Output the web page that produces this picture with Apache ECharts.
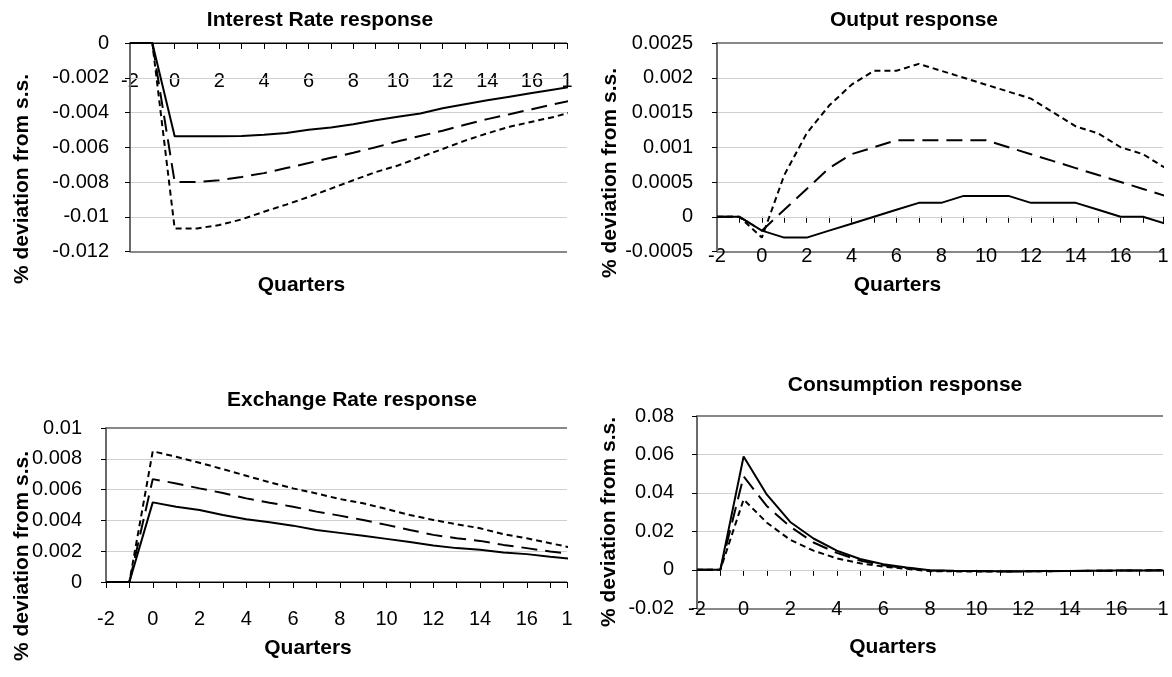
<!DOCTYPE html>
<html><head><meta charset="utf-8">
<script src="https://cdn.jsdelivr.net/npm/echarts@6/dist/echarts.min.js"></script>
<style>html,body{margin:0;padding:0;background:#fff}#c{width:1172px;height:677px}</style>
</head><body><div id="c"></div>
<script>
// ---- data (quarters -2 .. 18) ----
const quarters = [-2,-1,0,1,2,3,4,5,6,7,8,9,10,11,12,13,14,15,16,17,18];

const interestSolid = [0,0,-0.00537,-0.00537,-0.00537,-0.00535,-0.00528,-0.00518,-0.00499,-0.00486,-0.00467,-0.00444,-0.00425,-0.00406,-0.00375,-0.00352,-0.0033,-0.00309,-0.00288,-0.00267,-0.00248];
const interestLong  = [0,0,-0.008,-0.008,-0.0079,-0.00771,-0.00749,-0.0072,-0.00691,-0.00661,-0.00632,-0.006,-0.00566,-0.00535,-0.00505,-0.0047,-0.00438,-0.0041,-0.00381,-0.00352,-0.00324];
const interestShort = [0,0,-0.01067,-0.01067,-0.01048,-0.01015,-0.00971,-0.0093,-0.00886,-0.00838,-0.0079,-0.00743,-0.00705,-0.00657,-0.0061,-0.00562,-0.0052,-0.00482,-0.00453,-0.00425,-0.0039];

const outputSolid = [0,0,-0.0002,-0.0003,-0.0003,-0.0002,-0.0001,0,0.0001,0.0002,0.0002,0.0003,0.0003,0.0003,0.0002,0.0002,0.0002,0.0001,0,0,-0.0001];
const outputLong  = [0,0,-0.0002,0.0001,0.0004,0.0007,0.0009,0.001,0.0011,0.0011,0.0011,0.0011,0.0011,0.001,0.0009,0.0008,0.0007,0.0006,0.0005,0.0004,0.0003];
const outputShort = [0,0,-0.0003,0.0006,0.0012,0.0016,0.0019,0.0021,0.0021,0.0022,0.0021,0.002,0.0019,0.0018,0.0017,0.0015,0.0013,0.0012,0.001,0.0009,0.0007];

const exchSolid = [0,0,0.00517,0.00489,0.00468,0.00435,0.00407,0.00388,0.00366,0.00338,0.00319,0.003,0.0028,0.00259,0.00237,0.0022,0.00209,0.00192,0.00181,0.00164,0.0015];
const exchLong  = [0,0,0.00668,0.0064,0.00608,0.00578,0.00543,0.00515,0.00489,0.00457,0.00431,0.00403,0.00371,0.00338,0.00306,0.00284,0.00267,0.00241,0.0022,0.00198,0.0018];
const exchShort = [0,0,0.00849,0.00813,0.00774,0.00733,0.0069,0.00647,0.00608,0.00575,0.00539,0.00511,0.00474,0.00435,0.00403,0.00375,0.00349,0.0031,0.00284,0.00252,0.0022];

const consSolid = [0,0,0.0589,0.0391,0.0249,0.0163,0.00996,0.00567,0.0029,0.0012,-0.0002,-0.0005,-0.0006,-0.0007,-0.0007,-0.0006,-0.0006,-0.0005,-0.0004,-0.0003,-0.0003];
const consLong  = [0,0,0.0486,0.0331,0.0225,0.0142,0.0088,0.0048,0.0024,0.0009,-0.0003,-0.0006,-0.0007,-0.0008,-0.0008,-0.0007,-0.0006,-0.0005,-0.0004,-0.0003,-0.0002];
const consShort = [0,0,0.0366,0.0245,0.0156,0.01,0.006,0.0034,0.0017,0.0005,-0.0007,-0.0008,-0.0009,-0.0009,-0.0008,-0.0007,-0.0006,-0.0005,-0.0004,-0.0003,-0.0002];

// y-axis ranges [min, max, interval]
const interestY = [-0.012, 0, 0.002];
const outputY   = [-0.0005, 0.0025, 0.0005];
const exchY     = [0, 0.01, 0.002];
const consY     = [-0.02, 0.08, 0.02];

const titles = ['Interest Rate response', 'Output response', 'Exchange Rate response', 'Consumption response'];
const xName = 'Quarters';
const yName = '% deviation from s.s.';

// ---- layout ----
const FONT = "'Liberation Sans', Arial, Helvetica, sans-serif";
const panels = [
  {title: titles[0], vals: [interestSolid, interestLong, interestShort], y: interestY, xMax: 17.57, xm: -180.5,
   grid: {left: 130, top: 43, width: 437, height: 208.5}, tPos: [320, 20], xnPos: [301.5, 285], ynPos: [22, 179], ym: 21},
  {title: titles[1], vals: [outputSolid, outputLong, outputShort], y: outputY, xMax: 17.89, xm: -5.5,
   grid: {left: 717, top: 43, width: 446, height: 208.5}, tPos: [914, 20], xnPos: [897.5, 285], ynPos: [610, 173], ym: 24},
  {title: titles[2], vals: [exchSolid, exchLong, exchShort], y: exchY, xMax: 17.72, xm: 27,
   grid: {left: 106, top: 428, width: 461, height: 154}, tPos: [352, 400], xnPos: [308, 648], ynPos: [22, 556], ym: 24},
  {title: titles[3], vals: [consSolid, consLong, consShort], y: consY, xMax: 18, xm: -9,
   grid: {left: 697, top: 416, width: 466, height: 192.3}, tPos: [905, 385], xnPos: [893, 647], ynPos: [609, 522], ym: 23}
];
const lineTypes = ['solid', [16, 8], [6, 4]];

const grids = [], xAxes = [], yAxes = [], series = [], graphics = [];
panels.forEach((p, i) => {
  grids.push(Object.assign({containLabel: false}, p.grid));
  xAxes.push({
    gridIndex: i, type: 'value', min: -2, max: p.xMax, interval: 1, position: 'bottom',
    axisLine: {show: true, onZero: true, lineStyle: {color: '#000', width: 1}},
    axisTick: {show: true, length: 6, lineStyle: {color: '#000', width: 1}},
    axisLabel: {show: true, fontSize: 20, color: '#000', fontFamily: FONT, margin: p.xm,
      showMinLabel: true, showMaxLabel: true,
      formatter: v => (v > 17.4 ? '1' : (Math.abs(v % 2) < 1e-9 ? String(Math.round(v)) : ''))},
    splitLine: {show: false}
  });
  // main value axis
  yAxes.push({
    gridIndex: i, type: 'value', min: p.y[0], max: p.y[1], interval: p.y[2], position: 'left',
    axisLine: {show: true, onZero: false, lineStyle: {color: '#6a6a6a', width: 2}},
    axisTick: {show: true, length: 5, lineStyle: {color: '#000', width: 1}},
    axisLabel: {fontSize: 20, color: '#000', fontFamily: FONT, margin: p.ym},
    splitLine: {show: true, showMinLine: false, showMaxLine: false, lineStyle: {color: '#d0d0d0', width: 1}},
    z: 1
  });
  // plot-area top/bottom border (split lines only at min and max)
  yAxes.push({
    gridIndex: i, type: 'value', min: p.y[0], max: p.y[1], interval: p.y[1] - p.y[0], position: 'right',
    axisLine: {show: false, onZero: false}, axisTick: {show: false}, axisLabel: {show: false},
    splitLine: {show: true, lineStyle: {color: '#888', width: 2}},
    z: 0
  });
  p.vals.forEach((arr, k) => {
    series.push({
      type: 'line', xAxisIndex: i, yAxisIndex: 2 * i,
      data: quarters.map((q, j) => [q, arr[j]]),
      symbol: 'none', showSymbol: false, clip: true, silent: true,
      lineStyle: {color: '#000', width: 2, type: lineTypes[k]},
      z: 3
    });
  });
  const bold = {fontSize: 21, fontWeight: 'bold', fontFamily: FONT, fill: '#000',
                align: 'center', verticalAlign: 'middle', textAlign: 'center', textVerticalAlign: 'middle'};
  graphics.push({type: 'text', x: p.tPos[0], y: p.tPos[1], style: Object.assign({text: p.title}, bold)});
  graphics.push({type: 'text', x: p.xnPos[0], y: p.xnPos[1], style: Object.assign({text: xName}, bold)});
  graphics.push({type: 'text', x: p.ynPos[0], y: p.ynPos[1], rotation: Math.PI / 2, style: Object.assign({text: yName}, bold)});
});

const chart = echarts.init(document.getElementById('c'), null, {renderer: 'canvas'});
chart.setOption({
  animation: false,
  backgroundColor: '#fff',
  textStyle: {fontFamily: FONT},
  grid: grids, xAxis: xAxes, yAxis: yAxes, series: series,
  graphic: graphics
});
</script></body></html>
